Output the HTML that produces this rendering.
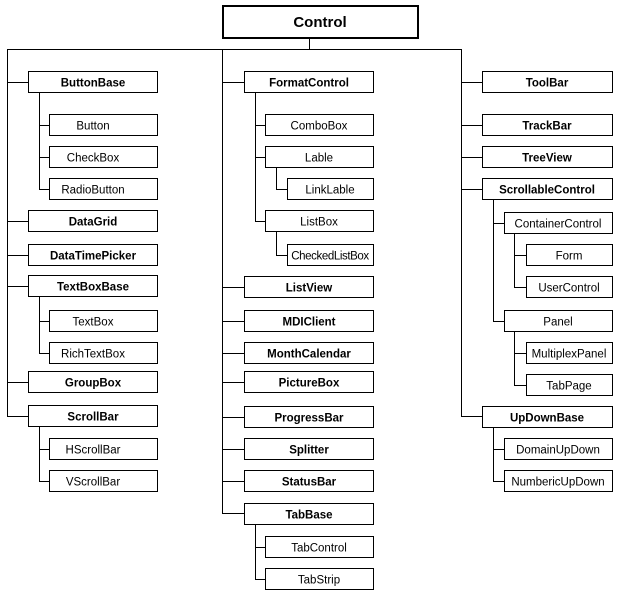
<!DOCTYPE html>
<html><head><meta charset="utf-8"><style>
html,body{margin:0;padding:0;background:#fff;}
svg{display:block;font-family:"Liberation Sans",Arial,sans-serif;}
text{font-size:11.5px;text-anchor:middle;fill:#000;}
.b{font-weight:bold;}
rect{fill:#fff;stroke:#000;stroke-width:1;}
line{stroke:#000;stroke-width:1;}
</style></head><body>
<svg width="620" height="599" viewBox="0 0 620 599">
<!-- root -->
<rect x="223" y="6" width="195" height="32" style="stroke-width:2"/>
<text x="320" y="27" class="b" style="font-size:15px">Control</text>
<line x1="309.5" y1="38" x2="309.5" y2="49.5"/>
<line x1="7" y1="49.5" x2="461" y2="49.5"/>
<!-- trunks -->
<line x1="7.5" y1="49" x2="7.5" y2="417"/>
<line x1="222.5" y1="49" x2="222.5" y2="514"/>
<line x1="461.5" y1="49" x2="461.5" y2="417"/>
<!-- left column connectors -->
<line x1="7" y1="82.5" x2="28" y2="82.5"/>
<line x1="7" y1="221.5" x2="28" y2="221.5"/>
<line x1="7" y1="255.5" x2="28" y2="255.5"/>
<line x1="7" y1="286.5" x2="28" y2="286.5"/>
<line x1="7" y1="382.5" x2="28" y2="382.5"/>
<line x1="7" y1="416.5" x2="28" y2="416.5"/>
<line x1="39.5" y1="92" x2="39.5" y2="189"/>
<line x1="39" y1="125.5" x2="49" y2="125.5"/>
<line x1="39" y1="157.5" x2="49" y2="157.5"/>
<line x1="39" y1="189.5" x2="49" y2="189.5"/>
<line x1="39.5" y1="297" x2="39.5" y2="353"/>
<line x1="39" y1="321.5" x2="49" y2="321.5"/>
<line x1="39" y1="353.5" x2="49" y2="353.5"/>
<line x1="39.5" y1="427" x2="39.5" y2="481"/>
<line x1="39" y1="449.5" x2="49" y2="449.5"/>
<line x1="39" y1="481.5" x2="49" y2="481.5"/>
<!-- left boxes -->
<rect x="28.5" y="71.5" width="129" height="21"/><text x="93" y="86.5" class="b">ButtonBase</text>
<rect x="49.5" y="114.5" width="108" height="21"/><text x="93" y="129.5">Button</text>
<rect x="49.5" y="146.5" width="108" height="21"/><text x="93" y="161.5">CheckBox</text>
<rect x="49.5" y="178.5" width="108" height="21"/><text x="93" y="193.5">RadioButton</text>
<rect x="28.5" y="210.5" width="129" height="21"/><text x="93" y="225.5" class="b">DataGrid</text>
<rect x="28.5" y="244.5" width="129" height="21"/><text x="93" y="259.5" class="b">DataTimePicker</text>
<rect x="28.5" y="275.5" width="129" height="21"/><text x="93" y="290.5" class="b">TextBoxBase</text>
<rect x="49.5" y="310.5" width="108" height="21"/><text x="93" y="325.5">TextBox</text>
<rect x="49.5" y="342.5" width="108" height="21"/><text x="93" y="357.5">RichTextBox</text>
<rect x="28.5" y="371.5" width="129" height="21"/><text x="93" y="386.5" class="b">GroupBox</text>
<rect x="28.5" y="405.5" width="129" height="21"/><text x="93" y="420.5" class="b">ScrollBar</text>
<rect x="49.5" y="438.5" width="108" height="21"/><text x="93" y="453.5">HScrollBar</text>
<rect x="49.5" y="470.5" width="108" height="21"/><text x="93" y="485.5">VScrollBar</text>
<!-- middle connectors -->
<line x1="222" y1="82.5" x2="244" y2="82.5"/>
<line x1="222" y1="287.5" x2="244" y2="287.5"/>
<line x1="222" y1="321.5" x2="244" y2="321.5"/>
<line x1="222" y1="353.5" x2="244" y2="353.5"/>
<line x1="222" y1="382.5" x2="244" y2="382.5"/>
<line x1="222" y1="417.5" x2="244" y2="417.5"/>
<line x1="222" y1="449.5" x2="244" y2="449.5"/>
<line x1="222" y1="481.5" x2="244" y2="481.5"/>
<line x1="222" y1="513.5" x2="244" y2="513.5"/>
<line x1="255.5" y1="92" x2="255.5" y2="221"/>
<line x1="255" y1="125.5" x2="265" y2="125.5"/>
<line x1="255" y1="157.5" x2="265" y2="157.5"/>
<line x1="255" y1="221.5" x2="265" y2="221.5"/>
<line x1="276.5" y1="167" x2="276.5" y2="189"/>
<line x1="276" y1="189.5" x2="287" y2="189.5"/>
<line x1="276.5" y1="231" x2="276.5" y2="255"/>
<line x1="276" y1="255.5" x2="287" y2="255.5"/>
<line x1="255.5" y1="524" x2="255.5" y2="579"/>
<line x1="255" y1="547.5" x2="265" y2="547.5"/>
<line x1="255" y1="579.5" x2="265" y2="579.5"/>
<!-- middle boxes -->
<rect x="244.5" y="71.5" width="129" height="21"/><text x="309" y="86.5" class="b">FormatControl</text>
<rect x="265.5" y="114.5" width="108" height="21"/><text x="319" y="129.5">ComboBox</text>
<rect x="265.5" y="146.5" width="108" height="21"/><text x="319" y="161.5">Lable</text>
<rect x="287.5" y="178.5" width="86" height="21"/><text x="330" y="193.5">LinkLable</text>
<rect x="265.5" y="210.5" width="108" height="21"/><text x="319" y="225.5">ListBox</text>
<rect x="287.5" y="244.5" width="86" height="21"/><text x="330" y="259.5" style="letter-spacing:-0.4px">CheckedListBox</text>
<rect x="244.5" y="276.5" width="129" height="21"/><text x="309" y="291.5" class="b">ListView</text>
<rect x="244.5" y="310.5" width="129" height="21"/><text x="309" y="325.5" class="b">MDIClient</text>
<rect x="244.5" y="342.5" width="129" height="21"/><text x="309" y="357.5" class="b">MonthCalendar</text>
<rect x="244.5" y="371.5" width="129" height="21"/><text x="309" y="386.5" class="b">PictureBox</text>
<rect x="244.5" y="406.5" width="129" height="21"/><text x="309" y="421.5" class="b">ProgressBar</text>
<rect x="244.5" y="438.5" width="129" height="21"/><text x="309" y="453.5" class="b">Splitter</text>
<rect x="244.5" y="470.5" width="129" height="21"/><text x="309" y="485.5" class="b">StatusBar</text>
<rect x="244.5" y="503.5" width="129" height="21"/><text x="309" y="518.5" class="b">TabBase</text>
<rect x="265.5" y="536.5" width="108" height="21"/><text x="319" y="551.5">TabControl</text>
<rect x="265.5" y="568.5" width="108" height="21"/><text x="319" y="583.5">TabStrip</text>
<!-- right connectors -->
<line x1="461" y1="82.5" x2="482" y2="82.5"/>
<line x1="461" y1="125.5" x2="482" y2="125.5"/>
<line x1="461" y1="157.5" x2="482" y2="157.5"/>
<line x1="461" y1="189.5" x2="482" y2="189.5"/>
<line x1="461" y1="416.5" x2="482" y2="416.5"/>
<line x1="493.5" y1="200" x2="493.5" y2="321"/>
<line x1="493" y1="223.5" x2="504" y2="223.5"/>
<line x1="493" y1="321.5" x2="504" y2="321.5"/>
<line x1="514.5" y1="234" x2="514.5" y2="287"/>
<line x1="514" y1="255.5" x2="526" y2="255.5"/>
<line x1="514" y1="287.5" x2="526" y2="287.5"/>
<line x1="514.5" y1="332" x2="514.5" y2="385"/>
<line x1="514" y1="353.5" x2="526" y2="353.5"/>
<line x1="514" y1="385.5" x2="526" y2="385.5"/>
<line x1="493.5" y1="427" x2="493.5" y2="481"/>
<line x1="493" y1="449.5" x2="504" y2="449.5"/>
<line x1="493" y1="481.5" x2="504" y2="481.5"/>
<!-- right boxes -->
<rect x="482.5" y="71.5" width="130" height="21"/><text x="547" y="86.5" class="b">ToolBar</text>
<rect x="482.5" y="114.5" width="130" height="21"/><text x="547" y="129.5" class="b">TrackBar</text>
<rect x="482.5" y="146.5" width="130" height="21"/><text x="547" y="161.5" class="b">TreeView</text>
<rect x="482.5" y="178.5" width="130" height="21"/><text x="547" y="193.5" class="b">ScrollableControl</text>
<rect x="504.5" y="212.5" width="108" height="21"/><text x="558" y="227.5">ContainerControl</text>
<rect x="526.5" y="244.5" width="86" height="21"/><text x="569" y="259.5">Form</text>
<rect x="526.5" y="276.5" width="86" height="21"/><text x="569" y="291.5">UserControl</text>
<rect x="504.5" y="310.5" width="108" height="21"/><text x="558" y="325.5">Panel</text>
<rect x="526.5" y="342.5" width="86" height="21"/><text x="569" y="357.5">MultiplexPanel</text>
<rect x="526.5" y="374.5" width="86" height="21"/><text x="569" y="389.5">TabPage</text>
<rect x="482.5" y="406.5" width="130" height="21"/><text x="547" y="421.5" class="b">UpDownBase</text>
<rect x="504.5" y="438.5" width="108" height="21"/><text x="558" y="453.5">DomainUpDown</text>
<rect x="504.5" y="470.5" width="108" height="21"/><text x="558" y="485.5">NumbericUpDown</text>
</svg>
</body></html>
